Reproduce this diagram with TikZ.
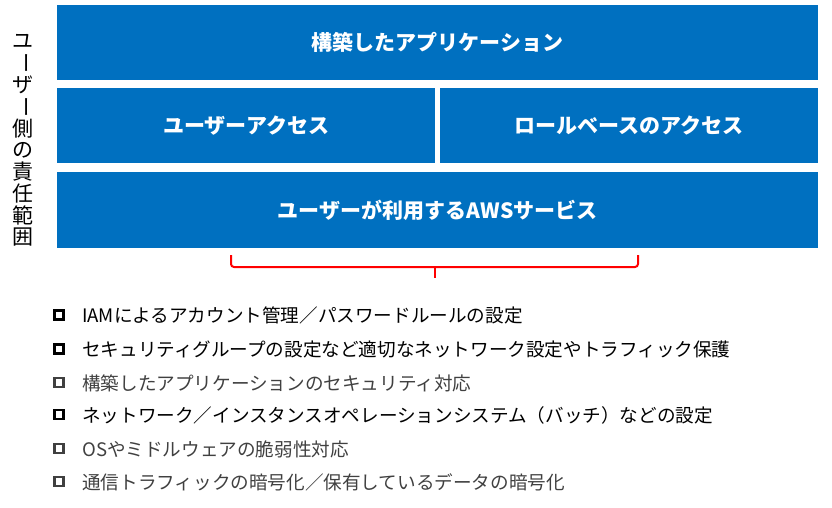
\documentclass[tikz,border=0pt]{standalone}
\usepackage{fontspec}
\setmainfont{Noto Sans CJK JP}
\definecolor{awsblue}{RGB}{0,112,192}
\definecolor{itemgray}{RGB}{64,64,64}
\definecolor{bracered}{RGB}{255,0,0}
\begin{document}
\begin{tikzpicture}[x=1pt,y=-1pt,
  blk/.style={fill=awsblue, text=white, font=\fontsize{21}{21}\selectfont\bfseries, inner sep=0pt, anchor=north west},
  vch/.style={inner sep=0pt, font=\fontsize{21}{21}\selectfont, text=black},
  itemtext/.style={inner sep=0pt, anchor=west, font=\fontsize{18.6}{18.6}\selectfont},
  chk/.style={draw, minimum size=9pt, inner sep=0pt},
  darkchk/.style={chk, draw=black, line width=2.8pt},
  lightchk/.style={chk, draw=itemgray, line width=2.3pt},
  darktext/.style={itemtext, text=black},
  lighttext/.style={itemtext, text=itemgray}]
\useasboundingbox (0,0) rectangle (832,507);

% blue blocks
\node[blk, minimum width=761pt, minimum height=75pt] (app) at (57,5) {構築したアプリケーション};
\node[blk, minimum width=378pt, minimum height=75pt] (ua) at (57,88) {ユーザーアクセス};
\node[blk, minimum width=378pt, minimum height=75pt] (ra) at (440,88) {ロールベースのアクセス};
\node[blk, minimum width=761pt, minimum height=76pt] (svc) at (57,172) {ユーザーが利用するAWSサービス};

% vertical label
\node[vch] (v1) at (23,41.7) {ユ};
\node[vch, rotate=-90] (v2) at (23,63.4) {ー};
\node[vch] (v3) at (23,85.1) {ザ};
\node[vch, rotate=-90] (v4) at (23,106.8) {ー};
\node[vch] (v5) at (23,128.5) {側};
\node[vch] (v6) at (23,150.2) {の};
\node[vch] (v7) at (23,171.9) {責};
\node[vch] (v8) at (23,193.6) {任};
\node[vch] (v9) at (23,215.3) {範};
\node[vch] (v10) at (23,237) {囲};

% brace
\coordinate (bl) at (231,255);
\coordinate (br) at (638,255);
\coordinate (bm) at (435,267);
\coordinate (bt) at (435,278);
\draw[bracered, line width=2pt, rounded corners=3pt] (bl) -- (bl |- bm) -- (br |- bm) -- (br);
\draw[bracered, line width=2pt] (bm) -- (bt);

% checklist
\node[darkchk] (c1) at (59,315) {};
\node[darktext] (t1) at (82,315.5) {IAMによるアカウント管理／パスワードルールの設定};
\node[darkchk] (c2) at (59,349) {};
\node[darktext] (t2) at (82,349.5) {セキュリティグループの設定など適切なネットワーク設定やトラフィック保護};
\node[lightchk] (c3) at (59,382.5) {};
\node[lighttext] (t3) at (82,383) {構築したアプリケーションのセキュリティ対応};
\node[darkchk] (c4) at (59,414.5) {};
\node[darktext] (t4) at (82,415) {ネットワーク／インスタンスオペレーションシステム（バッチ）などの設定};
\node[lightchk] (c5) at (59,448.5) {};
\node[lighttext] (t5) at (82,449) {OSやミドルウェアの脆弱性対応};
\node[lightchk] (c6) at (59,481.5) {};
\node[lighttext] (t6) at (82,482) {通信トラフィックの暗号化／保有しているデータの暗号化};
\end{tikzpicture}
\end{document}
